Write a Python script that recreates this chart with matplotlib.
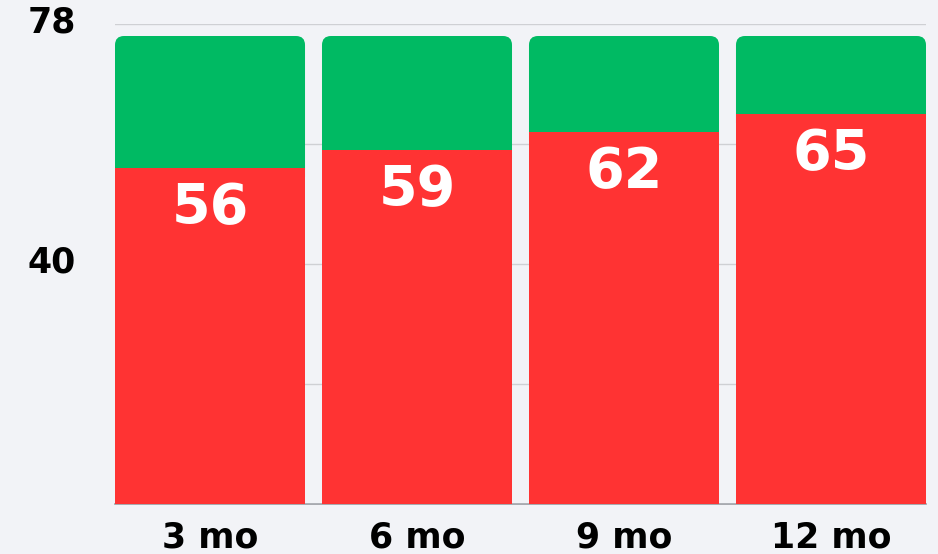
import matplotlib.pyplot as plt
from matplotlib.patches import FancyBboxPatch
from matplotlib.transforms import ScaledTranslation

# Stacked share per horizon: red part (labelled) and green remainder
periods      = ["3 mo", "6 mo", "9 mo", "12 mo"]
red_values   = [56, 59, 62, 65]
green_values = [22, 19, 16, 13]

y_ticks       = [0, 20, 40, 60, 80]
y_tick_labels = ["", "", "40", "", "78"]

RED   = "#ff3333"
GREEN = "#00ba63"
BG    = "#f2f3f7"

plt.rcParams["font.family"] = ["DejaVu Sans"]

fig = plt.figure(figsize=(9.38, 5.54), dpi=100, facecolor=BG)
ax = fig.add_axes([115 / 938, 50 / 554, 811 / 938, 480 / 554])
ax.set_facecolor(BG)

x = list(range(len(periods)))
width = 0.918

red_bars = ax.bar(x, red_values, width=width, color=RED, zorder=3)
green_bars = ax.bar(x, green_values, width=width, bottom=red_values,
                    color=GREEN, zorder=2)

ax.set_xlim(-width / 2, len(periods) - 1 + width / 2)
ax.set_ylim(0, 80)

# Swap the green segments for boxes with rounded top corners.
# px per x unit / px per y unit, so the corner radius stays circular.
px_x = 811 / (len(periods) - 1 + width)
aspect = px_x / (480 / 80)
radius = 9 / px_x
for p in green_bars.patches:
    x0, y0 = p.get_x(), p.get_y()
    w, h = p.get_width(), p.get_height()
    p.set_visible(False)
    ext = radius * aspect * 2
    box = FancyBboxPatch((x0, y0 - ext), w, h + ext,
                         boxstyle=f"round,pad=0,rounding_size={radius}",
                         mutation_aspect=aspect,
                         facecolor=GREEN, edgecolor="none", zorder=2)
    ax.add_patch(box)

for i, v in enumerate(red_values):
    ax.annotate(str(v), (i, v), xytext=(0, -29), textcoords="offset points",
                ha="center", va="center", color="white",
                fontsize=40, fontweight="bold")

ax.set_yticks(y_ticks)
ax.set_yticklabels(y_tick_labels, fontsize=25, fontweight="bold")
ax.set_xticks(x)
ax.set_xticklabels(periods, fontsize=25, fontweight="bold")
ax.tick_params(axis="y", length=0, pad=28)
ax.tick_params(axis="x", length=0, pad=12)

# nudge the y labels up a little
shift = ScaledTranslation(0, 3.5 / 72, fig.dpi_scale_trans)
for lbl in ax.get_yticklabels():
    lbl.set_transform(lbl.get_transform() + shift)

ax.grid(axis="y", color="#cfd0d4", linewidth=1, zorder=0)
for s in ["top", "right", "left"]:
    ax.spines[s].set_visible(False)
ax.spines["bottom"].set_color("#9a9ca2")
ax.spines["bottom"].set_linewidth(1.2)
ax.spines["bottom"].set_zorder(1)

fig.savefig("out.png", dpi=100, facecolor=BG)
